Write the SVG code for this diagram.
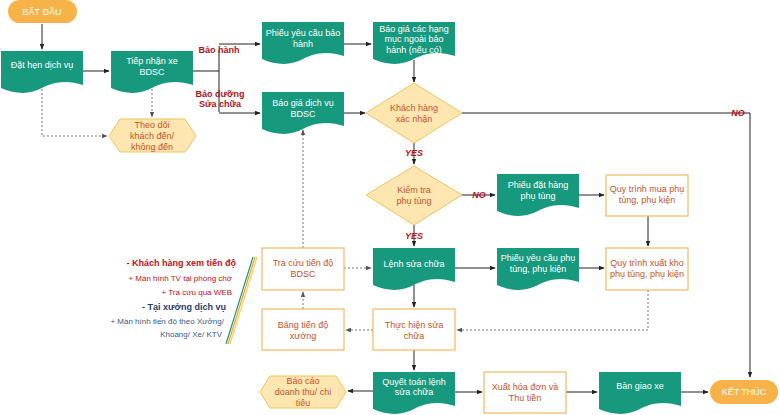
<svg xmlns="http://www.w3.org/2000/svg" width="780" height="415" viewBox="0 0 780 415">
<style>
text{font-family:"Liberation Sans",Arial,sans-serif;font-size:9px;text-anchor:middle}
.doc{fill:#17997d}
.w{fill:#fff}
.box{fill:#fff;stroke:#f5b860;stroke-width:1.2}
.o{fill:#c4532a}
.dia{fill:#fde6b0;stroke:#f3c35a}
.pill{fill:#f7b347}
.l{fill:none;stroke:#222;stroke-width:1}
.d{fill:none;stroke:#777;stroke-width:1;stroke-dasharray:2,2}
.lab{fill:#b0101a;font-weight:bold}
.yes{fill:#c0101a;font-style:italic;font-weight:bold}
</style>
<defs>
<path id="doc" d="M0 0H82V34C64 28 50 32 41 37C30 43 16 44 0 37Z"/>
<marker id="a" viewBox="0 0 8 8" refX="7" refY="4" markerWidth="6" markerHeight="6" orient="auto"><path d="M0 1L8 4L0 7Z" fill="#222"/></marker>
<marker id="ad" viewBox="0 0 8 8" refX="7" refY="4" markerWidth="6" markerHeight="6" orient="auto"><path d="M0 1L8 4L0 7Z" fill="#555"/></marker>
</defs>
<g id="connectors">
<path class="l" d="M42 24V49" marker-end="url(#a)"/>
<path class="l" d="M83 71H109" marker-end="url(#a)"/>
<path class="l" d="M193 71H219M219 50V112M219 44H260" marker-end="url(#a)"/>
<path class="l" d="M219 113H260" marker-end="url(#a)"/>
<path class="l" d="M344 44H371" marker-end="url(#a)"/>
<path class="l" d="M414 60V82" marker-end="url(#a)"/>
<path class="l" d="M344 113H365" marker-end="url(#a)"/>
<path class="l" d="M462 113H750V377" marker-end="url(#a)"/>
<path class="l" d="M414 143V164" marker-end="url(#a)"/>
<path class="l" d="M462 195H495" marker-end="url(#a)"/>
<path class="l" d="M579 195H604" marker-end="url(#a)"/>
<path class="l" d="M648 216V246" marker-end="url(#a)"/>
<path class="l" d="M414 225V246" marker-end="url(#a)"/>
<path class="l" d="M455 268H495" marker-end="url(#a)"/>
<path class="l" d="M579 268H604" marker-end="url(#a)"/>
<path class="l" d="M414 285V307" marker-end="url(#a)"/>
<path class="l" d="M414 350V370" marker-end="url(#a)"/>
<path class="l" d="M373 391H348" marker-end="url(#a)"/>
<path class="l" d="M455 392H482" marker-end="url(#a)"/>
<path class="l" d="M566 392H597" marker-end="url(#a)"/>
<path class="l" d="M681 392H708" marker-end="url(#a)"/>
<path class="d" d="M648 290V330H457" marker-end="url(#ad)"/>
<path class="d" d="M373 330H346" marker-end="url(#ad)"/>
<path class="d" d="M303 309V292" marker-end="url(#ad)"/>
<path class="d" d="M344 268H371" marker-end="url(#ad)"/>
<path class="d" d="M303 248V130" marker-end="url(#ad)"/>
<path class="d" d="M152 89V117" marker-end="url(#ad)"/>
<path class="d" d="M42 89V136H107" marker-end="url(#ad)"/>
<text class="lab" x="219" y="53">Bảo hành</text>
<text class="lab" x="220" y="97">Bảo dưỡng</text>
<text class="lab" x="220" y="107">Sửa chữa</text>
<text class="yes" x="738" y="116">NO</text>
<text class="yes" x="414" y="156">YES</text>
<text class="yes" x="479" y="198">NO</text>
<text class="yes" x="414" y="239">YES</text>
</g>
<g id="start"><rect class="pill" x="8" y="0" width="69" height="23" rx="11.5"/><text class="w" x="42" y="15">BẮT ĐẦU</text></g>
<g id="dat-hen"><use href="#doc" class="doc" x="1" y="51"/><text class="w" x="42" y="68">Đặt hẹn dịch vụ</text></g>
<g id="tiep-nhan"><use href="#doc" class="doc" x="111" y="51"/><text class="w" x="152" y="64">Tiếp nhận xe</text><text class="w" x="152" y="75">BDSC</text></g>
<g id="theo-doi"><path d="M120 119H185L196 136L185 152H120L109 136Z" class="dia"/><text class="o" x="152" y="128">Theo dõi</text><text class="o" x="152" y="139">khách đến/</text><text class="o" x="152" y="150">không đến</text></g>
<g id="phieu-bh"><use href="#doc" class="doc" x="262" y="22"/><text class="w" x="303" y="36">Phiếu yêu cầu bảo</text><text class="w" x="303" y="47">hành</text></g>
<g id="bao-gia-ngoai"><use href="#doc" class="doc" x="373" y="22"/><text class="w" x="414" y="32">Báo giá các hạng</text><text class="w" x="414" y="42">mục ngoài bảo</text><text class="w" x="414" y="53">hành (nếu có)</text></g>
<g id="bao-gia-dv"><use href="#doc" class="doc" x="262" y="92"/><text class="w" x="303" y="106">Báo giá dịch vụ</text><text class="w" x="303" y="117">BDSC</text></g>
<g id="kh-xac-nhan"><path class="dia" d="M414 83L462 113L414 143L366 113Z"/><text class="o" x="414" y="111">Khách hàng</text><text class="o" x="414" y="122">xác nhận</text></g>
<g id="kiem-tra"><path class="dia" d="M414 166L462 195L414 225L366 195Z"/><text class="o" x="414" y="193">Kiểm tra</text><text class="o" x="414" y="204">phụ tùng</text></g>
<g id="phieu-dat-hang"><use href="#doc" class="doc" x="497" y="174"/><text class="w" x="538" y="188">Phiếu đặt hàng</text><text class="w" x="538" y="199">phụ tùng</text></g>
<g id="qt-mua"><rect class="box" x="606" y="175" width="82" height="41"/><text class="o" x="647" y="192">Quy trình mua phụ</text><text class="o" x="647" y="203">tùng, phụ kiện</text></g>
<g id="lenh"><use href="#doc" class="doc" x="373" y="248"/><text class="w" x="414" y="267">Lệnh sửa chữa</text></g>
<g id="phieu-pt"><use href="#doc" class="doc" x="497" y="248"/><text class="w" x="538" y="261">Phiếu yêu cầu phụ</text><text class="w" x="538" y="272">tùng, phụ kiện</text></g>
<g id="qt-xuat"><rect class="box" x="606" y="248" width="82" height="42"/><text class="o" x="647" y="266">Quy trình xuất kho</text><text class="o" x="647" y="277">phụ tùng, phụ kiện</text></g>
<g id="thuc-hien"><rect class="box" x="373" y="309" width="82" height="41"/><text class="o" x="414" y="328">Thực hiện sửa</text><text class="o" x="414" y="339">chữa</text></g>
<g id="bang-tien-do"><rect class="box" x="262" y="309" width="82" height="41"/><text class="o" x="303" y="328">Bảng tiến độ</text><text class="o" x="303" y="339">xưởng</text></g>
<g id="tra-cuu"><rect class="box" x="262" y="248" width="82" height="42"/><text class="o" x="303" y="266">Tra cứu tiến độ</text><text class="o" x="303" y="277">BDSC</text></g>
<g id="quyet-toan"><use href="#doc" class="doc" x="373" y="372"/><text class="w" x="414" y="385">Quyết toán lệnh</text><text class="w" x="414" y="395">sửa chữa</text></g>
<g id="bao-cao"><path d="M270 376H336L346 392L336 408H270L260 392Z" class="dia"/><text class="o" x="303" y="384">Báo cáo</text><text class="o" x="303" y="395">doanh thu/ chi</text><text class="o" x="303" y="406">tiêu</text></g>
<g id="xuat-hoa-don"><rect class="box" x="484" y="372" width="82" height="41"/><text class="o" x="525" y="390">Xuất hóa đơn và</text><text class="o" x="525" y="401">Thu tiền</text></g>
<g id="ban-giao"><use href="#doc" class="doc" x="599" y="372"/><text class="w" x="640" y="389">Bàn giao xe</text></g>
<g id="end"><rect class="pill" x="710" y="380" width="68" height="24" rx="12"/><text class="w" x="744" y="395">KẾT THÚC</text></g>
<g id="notes" style="text-anchor:end">
<text x="236" y="266" style="text-anchor:end;fill:#c0101a;font-weight:bold">-  Khách hàng xem tiến độ</text>
<text x="232" y="281" style="text-anchor:end;fill:#c0101a;font-size:8px">+  Màn hình TV tại phòng chờ</text>
<text x="232" y="295" style="text-anchor:end;fill:#c0101a;font-size:8px">+  Tra cứu qua WEB</text>
<text x="226" y="310" style="text-anchor:end;fill:#2b3d6b;font-weight:bold">-  Tại xưởng dịch vụ</text>
<text x="224" y="324" style="text-anchor:end;fill:#3d5a80;font-size:8px">+  Màn hình tiến độ theo Xưởng/</text>
<text x="222" y="337" style="text-anchor:end;fill:#3d5a80;font-size:8px">Khoang/ Xe/ KTV</text>
<path d="M253 257L226 344" stroke="#1a9a7d" stroke-width="1.2"/>
<path d="M255 257L228 344" stroke="#f3a03a" stroke-width="1.2"/>
<path d="M257 257L230 344" stroke="#f7d050" stroke-width="1.2"/>
</g>
</svg>
